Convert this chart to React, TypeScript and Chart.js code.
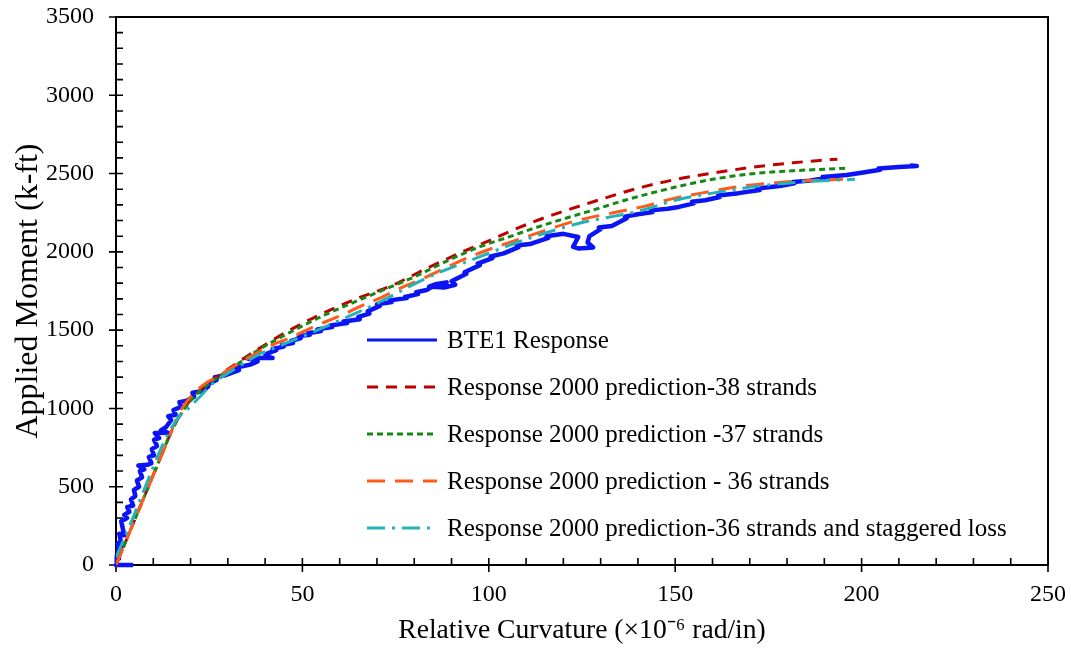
import React, { useEffect, useRef } from "react";
import { Chart, registerables } from "chart.js";

Chart.register(...registerables);

// ---------- data (curvature ×10^-6 rad/in, moment k-ft) ----------
const bteCurv = [4.6, 0, 0.2, 0.8, 0.5, 1.5, 0.9, 2.2, 1.4, 3.0, 2.2, 3.6, 3.0, 4.6, 4.0, 5.2, 4.8, 6.2, 5.6, 7.0, 6.4, 7.6, 6.0, 8.4, 9.5, 8.8, 10.2, 9.6, 11.0, 10.2, 11.6, 10.4, 13.9, 12.0, 13.4, 14.8, 14.0, 16.0, 15.4, 17.5, 17.0, 19.0, 21.0, 20.5, 23.0, 24.7, 25.0, 27.0, 26.5, 29.0, 33.0, 32.0, 36.0, 38.0, 35.0, 42.0, 40.0, 40.5, 43.0, 42.0, 45.0, 44.5, 47.5, 47.0, 49.6, 49.0, 52.0, 51.5, 55.0, 54.0, 58.0, 57.5, 62.0, 61.0, 65.4, 65.0, 68.0, 67.5, 70.8, 70.0, 74.0, 73.5, 78.0, 77.5, 81.0, 80.5, 83.3, 85.0, 88.7, 86.0, 84.0, 88.0, 91.0, 90.0, 94.0, 93.5, 97.6, 97.0, 101.0, 100.5, 104.0, 108.0, 107.5, 111.0, 116.0, 115.5, 120.0, 124.0, 122.6, 124.0, 128.0, 126.5, 127.0, 130.0, 129.5, 133.0, 137.0, 136.5, 140.0, 144.0, 143.5, 148.0, 151.0, 155.0, 154.5, 158.0, 162.0, 161.5, 167.0, 172.7, 172.0, 178.0, 182.0, 181.5, 186.0, 190.0, 189.5, 196.0, 200.0, 205.0, 204.5, 210.0, 214.8, 213.0];
const bteMoment = [0, 0, 60, 40, 140, 120, 200, 190, 280, 300, 320, 340, 370, 380, 420, 440, 480, 500, 540, 560, 600, 610, 635, 640, 650, 690, 700, 740, 760, 800, 810, 843, 845, 860, 880, 926, 950, 960, 990, 1011, 1040, 1050, 1075, 1100, 1110, 1139, 1160, 1182, 1200, 1210, 1245, 1260, 1280, 1300, 1322, 1322, 1335, 1350, 1372, 1380, 1395, 1405, 1418, 1432, 1450, 1462, 1470, 1480, 1495, 1505, 1520, 1530, 1545, 1555, 1570, 1585, 1605, 1620, 1655, 1665, 1680, 1690, 1705, 1712, 1730, 1742, 1756, 1780, 1805, 1795, 1778, 1772, 1790, 1812, 1860, 1870, 1915, 1925, 1960, 1970, 1990, 2030, 2040, 2050, 2090, 2100, 2115, 2095, 2032, 2022, 2028, 2060, 2100, 2145, 2155, 2165, 2215, 2225, 2240, 2255, 2265, 2275, 2287, 2310, 2320, 2330, 2350, 2360, 2375, 2395, 2405, 2420, 2438, 2446, 2455, 2470, 2478, 2491, 2505, 2525, 2532, 2542, 2548, 2552];

const s38Curv = [0, 4, 8, 12, 15, 18, 21, 25, 30, 38.6, 47, 56.5, 65, 74.3, 83, 92.3, 100, 106.6, 114, 121, 128, 135, 141.4, 150, 159.3, 170, 181.6, 188, 193.5];
const s38Moment = [0, 230, 460, 690, 860, 990, 1080, 1165, 1250, 1386, 1505, 1618, 1705, 1788, 1890, 1993, 2070, 2140, 2210, 2267, 2320, 2372, 2415, 2462, 2500, 2538, 2569, 2582, 2592];

const s37Curv = [0, 4, 8, 12, 15, 18, 21, 25, 30, 38, 47, 56, 65, 70.8, 80, 90, 97.6, 106, 112, 119, 128, 137, 146, 155, 163.8, 172, 181.6, 190, 196];
const s37Moment = [0, 230, 460, 690, 860, 985, 1075, 1160, 1240, 1370, 1490, 1597, 1690, 1748, 1840, 1955, 2033, 2100, 2150, 2203, 2267, 2333, 2390, 2440, 2478, 2502, 2518, 2528, 2534];

const s36Curv = [0, 4, 8, 12, 14, 14.8, 15.7, 18, 21, 24, 27, 31, 36, 41, 47.5, 53.8, 60, 65.4, 70.8, 76, 83.3, 93, 100, 108, 115.5, 122.6, 133, 141.4, 149.4, 159.3, 168, 177.2, 186, 195];
const s36Moment = [0, 230, 460, 690, 800, 850, 907, 1010, 1100, 1160, 1201, 1260, 1329, 1395, 1460, 1530, 1590, 1650, 1705, 1765, 1840, 1948, 2015, 2080, 2140, 2193, 2248, 2289, 2340, 2385, 2420, 2442, 2455, 2463];

const s36sCurv = [0, 4, 8.2, 12, 15, 17, 19, 22.5, 26, 31.4, 38, 45.8, 54, 65.4, 70.8, 83.3, 97.6, 110, 124.5, 133, 141.4, 150, 160, 168, 178, 188, 198.2];
const s36sMoment = [50, 270, 520, 740, 880, 950, 990, 1075, 1160, 1245, 1340, 1418, 1500, 1620, 1680, 1833, 1969, 2080, 2184, 2225, 2267, 2330, 2375, 2406, 2435, 2452, 2463];

const seriesLabels = [
  "BTE1 Response",
  "Response 2000 prediction-38 strands",
  "Response 2000 prediction -37 strands",
  "Response 2000 prediction - 36 strands",
  "Response 2000 prediction-36 strands and staggered loss",
];

const xTickValues = [0, 50, 100, 150, 200, 250];
const yTickValues = [0, 500, 1000, 1500, 2000, 2500, 3000, 3500];

const FONT = "'Liberation Serif', 'Times New Roman', serif";

const toPoints = (xs: number[], ys: number[]) => xs.map((x, i) => ({ x, y: ys[i] }));

const frameTicksPlugin = {
  id: "frameTicks",
  beforeDatasetsDraw(chart: any) {
    const { ctx, chartArea: a, scales } = chart;
    const xs = scales.x;
    const ys = scales.y;
    ctx.save();
    ctx.strokeStyle = "#000";
    ctx.lineWidth = 2;
    ctx.strokeRect(a.left, a.top, a.right - a.left, a.bottom - a.top);
    ctx.lineWidth = 1.6;
    ctx.beginPath();
    for (let v = 0; v <= 3500; v += 100) {
      const py = ys.getPixelForValue(v);
      if (v % 500 === 0) {
        ctx.moveTo(a.left - 7, py);
        ctx.lineTo(a.left + 7, py);
      } else {
        ctx.moveTo(a.left, py);
        ctx.lineTo(a.left + 7, py);
      }
    }
    for (let v = 0; v <= 250; v += 10) {
      const px = xs.getPixelForValue(v);
      if (v % 50 === 0) {
        ctx.moveTo(px, a.bottom + 7);
        ctx.lineTo(px, a.bottom - 7);
      } else {
        ctx.moveTo(px, a.bottom);
        ctx.lineTo(px, a.bottom - 7);
      }
    }
    ctx.stroke();
    ctx.restore();
  },
};

const legendPlugin = {
  id: "insideLegend",
  afterDraw(chart: any) {
    const { ctx } = chart;
    const rowsY = [340, 387, 434, 481, 528];
    const x0 = 367;
    const x1 = 437;
    ctx.save();
    chart.data.datasets.forEach((ds: any, i: number) => {
      const y = rowsY[i];
      ctx.beginPath();
      ctx.strokeStyle = ds.borderColor;
      ctx.lineWidth = 3;
      ctx.setLineDash(ds.borderDash || []);
      ctx.moveTo(x0, y);
      ctx.lineTo(x1, y);
      ctx.stroke();
      ctx.setLineDash([]);
      ctx.fillStyle = "#000";
      ctx.font = `25px ${FONT}`;
      ctx.textBaseline = "middle";
      ctx.textAlign = "left";
      ctx.fillText(ds.label, 447, y + 1);
    });
    ctx.restore();
  },
};

export default function App() {
  const canvasRef = useRef<HTMLCanvasElement | null>(null);

  useEffect(() => {
    if (!canvasRef.current) return;
    const common = {
      showLine: true,
      pointRadius: 0,
      pointHoverRadius: 0,
      fill: false,
    };
    const chart = new Chart(canvasRef.current, {
      type: "scatter",
      data: {
        datasets: [
          {
            ...common,
            label: seriesLabels[0],
            data: toPoints(bteCurv, bteMoment),
            borderColor: "#0A14F5",
            borderWidth: 4.5,
            borderDash: [],
            borderJoinStyle: "round",
            tension: 0,
            order: 5,
            clip: false,
          },
          {
            ...common,
            label: seriesLabels[1],
            data: toPoints(s38Curv, s38Moment),
            borderColor: "#C00000",
            borderWidth: 3,
            borderDash: [11, 8],
            cubicInterpolationMode: "monotone",
            order: 4,
          },
          {
            ...common,
            label: seriesLabels[2],
            data: toPoints(s37Curv, s37Moment),
            borderColor: "#138A13",
            borderWidth: 3,
            borderDash: [6, 4],
            cubicInterpolationMode: "monotone",
            order: 3,
          },
          {
            ...common,
            label: seriesLabels[3],
            data: toPoints(s36Curv, s36Moment),
            borderColor: "#FF5A1A",
            borderWidth: 3,
            borderDash: [18, 10],
            cubicInterpolationMode: "monotone",
            order: 2,
          },
          {
            ...common,
            label: seriesLabels[4],
            data: toPoints(s36sCurv, s36sMoment),
            borderColor: "#22B2B8",
            borderWidth: 3,
            borderDash: [18, 7, 3, 7],
            cubicInterpolationMode: "monotone",
            order: 1,
          },
        ],
      } as any,
      options: {
        responsive: false,
        animation: false,
        events: [],
        layout: { padding: { left: 0, top: 17, right: 23, bottom: 0 } },
        plugins: {
          legend: { display: false },
          tooltip: { enabled: false },
          title: { display: false },
        },
        scales: {
          x: {
            type: "linear",
            min: 0,
            max: 250,
            afterFit: (s: any) => {
              s.height = 84;
              s.paddingLeft = 0;
              s.paddingRight = 0;
            },
            afterBuildTicks: (s: any) => {
              s.ticks = xTickValues.map((v) => ({ value: v }));
            },
            grid: { display: false, drawTicks: false },
            border: { display: false },
            ticks: {
              color: "#000",
              padding: 15,
              maxRotation: 0,
              font: { family: FONT, size: 24 },
              callback: (v: any) => String(v),
            },
            title: {
              display: true,
              text: "Relative Curvature (×10⁻⁶ rad/in)",
              color: "#000",
              font: { family: FONT, size: 27.6 },
              padding: { top: 0, bottom: 2 },
            },
          },
          y: {
            type: "linear",
            min: 0,
            max: 3500,
            afterFit: (s: any) => {
              s.width = 116;
              s.paddingTop = 0;
              s.paddingBottom = 0;
            },
            afterBuildTicks: (s: any) => {
              s.ticks = yTickValues.map((v) => ({ value: v }));
            },
            grid: { display: false, drawTicks: false },
            border: { display: false },
            ticks: {
              color: "#000",
              padding: 22,
              font: { family: FONT, size: 24 },
              callback: (v: any) => String(v),
            },
            title: {
              display: true,
              text: "Applied Moment (k-ft)",
              color: "#000",
              font: { family: FONT, size: 32 },
              padding: { top: 9, bottom: 0 },
            },
          },
        },
      } as any,
      plugins: [frameTicksPlugin, legendPlugin],
    });
    return () => chart.destroy();
  }, []);

  return (
    <div style={{ position: "absolute", left: 0, top: 0, width: 1071, height: 649, background: "#fff" }}>
      <canvas ref={canvasRef} width={1071} height={649} />
    </div>
  );
}
